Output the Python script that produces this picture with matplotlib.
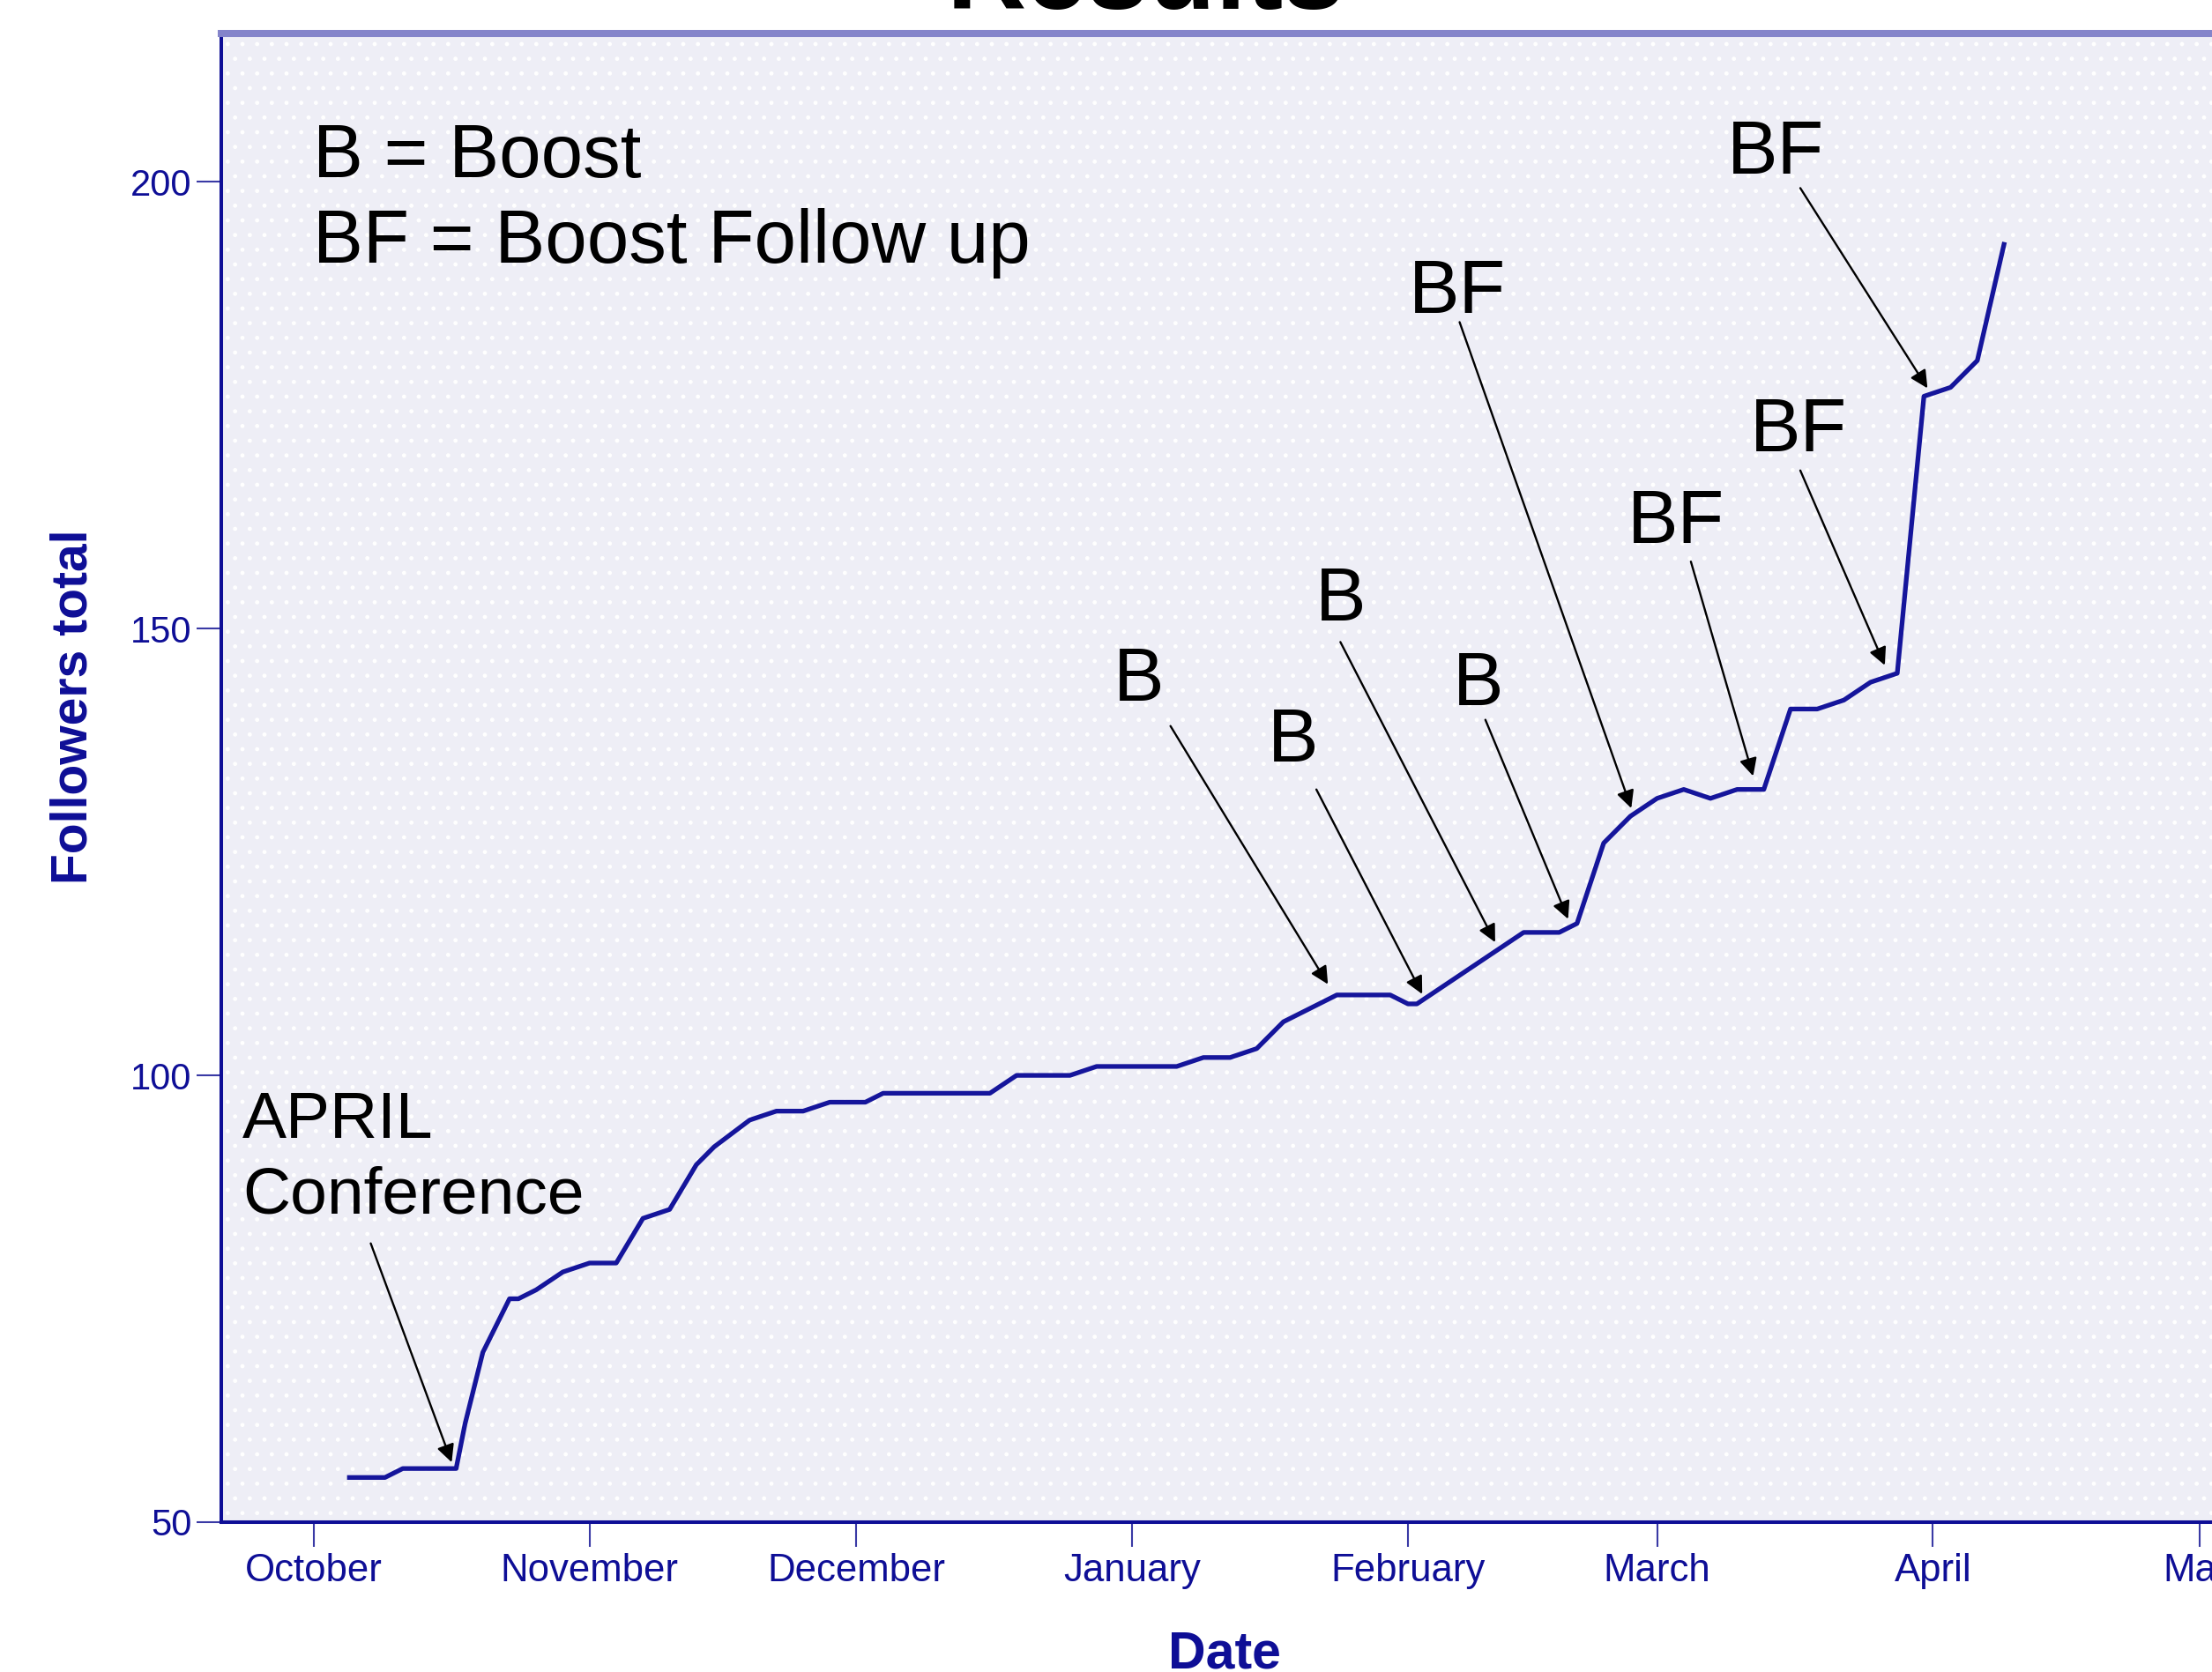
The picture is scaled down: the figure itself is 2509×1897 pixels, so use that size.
import datetime
import matplotlib
matplotlib.use('Agg')
import matplotlib.pyplot as plt
from matplotlib.patches import Rectangle

plt.rcParams['font.family'] = ['Liberation Sans', 'DejaVu Sans']
plt.rcParams['hatch.color'] = 'white'

navy = '#0E0E96'
start = datetime.date(2012, 10, 1)

# days since 1 October and total followers on that day
day = [4, 8, 10, 16, 17, 18, 19, 22, 23, 25,
       28, 31, 34, 37, 40, 43, 45, 49, 52, 55,
       58, 62, 64, 76, 79, 85, 88, 97, 100, 103,
       106, 109, 111, 115, 121, 123, 124, 136, 140, 142,
       145, 148, 151, 154, 157, 160, 163, 166, 169, 172,
       175, 178, 181, 184, 187, 190]
followers = [55, 55, 56, 56, 61, 65, 69, 75, 75, 76,
             78, 79, 79, 84, 85, 90, 92, 95, 96, 96,
             97, 97, 98, 98, 100, 100, 101, 101, 102, 102,
             103, 106, 107, 109, 109, 108, 108, 116, 116, 117,
             126, 129, 131, 132, 131, 132, 132, 141, 141, 142,
             144, 145, 176, 177, 180, 193]

months = ['October', 'November', 'December', 'January', 'February', 'March', 'April', 'May']
month_dates = [datetime.date(2012, 10, 1), datetime.date(2012, 11, 1), datetime.date(2012, 12, 1),
               datetime.date(2013, 1, 1), datetime.date(2013, 2, 1), datetime.date(2013, 3, 1),
               datetime.date(2013, 4, 1), datetime.date(2013, 5, 1)]
month_ticks = [(d - start).days for d in month_dates]

yticks = [50, 100, 150, 200]

# annotations: label, label position (centre, baseline), arrow tail, arrow tip
labels = ['B', 'B', 'B', 'B', 'BF', 'BF', 'BF', 'BF']
label_x = [92.7, 110.1, 115.4, 130.9, 128.5, 153.1, 166.9, 164.3]
label_y = [141.9, 135.1, 150.9, 141.4, 185.3, 159.6, 169.8, 200.9]
tail_x = [96.3, 112.7, 115.4, 131.7, 128.8, 154.8, 167.1, 167.1]
tail_y = [139.1, 132.0, 148.5, 139.8, 184.3, 157.5, 167.7, 199.3]
tip_x = [114.0, 124.6, 132.8, 141.0, 148.1, 161.8, 176.6, 181.4]
tip_y = [110.2, 109.1, 114.9, 117.5, 129.9, 133.5, 145.9, 176.9]

W, H = 2509, 1897
fig = plt.figure(figsize=(W / 100, H / 100), dpi=100)
ax = fig.add_axes([251 / W, (H - 1727) / H, (2600 - 251) / W, (1727 - 38) / H])
ax.set_facecolor('#EEEEF6')
ax.add_patch(Rectangle((0, 0), 1, 1, transform=ax.transAxes, facecolor='none',
                       edgecolor='white', hatch='.', lw=0, zorder=0.5))

ax.plot(day, followers, color='#15159B', lw=3.8, zorder=3)

ax.set_xlim(-10.4, 222.4)
ax.set_ylim(50, 216.6)

ax.set_xticks(month_ticks)
ax.set_xticklabels(months)
ax.set_yticks(yticks)
ax.tick_params(axis='both', direction='out', length=20, width=1.5, color='#3A3AA5',
               labelcolor=navy, labelsize=30)
ax.tick_params(axis='x', pad=5, labelsize=31.5)
ax.tick_params(axis='y', pad=4)

for s in ['left', 'bottom']:
    ax.spines[s].set_color(navy)
    ax.spines[s].set_linewidth(2.9)
ax.spines['top'].set_color('#8484CA')
ax.spines['top'].set_linewidth(5.8)
ax.spines['right'].set_visible(False)

ax.set_xlabel('Date', fontsize=42.5, fontweight='bold', color=navy)
ax.xaxis.set_label_coords(0.4845, -0.0725)
ax.set_ylabel('Followers total', fontsize=41, fontweight='bold', color=navy)
ax.yaxis.set_label_coords(-0.060, 0.548)

fig.text(0.518, 1 - 10 / H, 'Results', ha='center', va='baseline', fontsize=90,
         fontweight='bold', color='black')

ax.text(-0.1, 206.6, 'B = Boost\nBF = Boost Follow up', ha='left', va='top',
        fontsize=61.5, linespacing=1.27, zorder=4)
ax.text(-8.0, 98.3, 'APRIL\nConference', ha='left', va='top', fontsize=54,
        linespacing=1.3, zorder=4)
ax.annotate('', xy=(15.5, 56.7), xytext=(6.4, 81.2),
            arrowprops=dict(arrowstyle='-|>', color='black', lw=1.7,
                            mutation_scale=30, shrinkA=0, shrinkB=0), zorder=4)

for i in range(len(labels)):
    ax.text(label_x[i], label_y[i], labels[i], ha='center', va='baseline', fontsize=62, zorder=4)
    ax.annotate('', xy=(tip_x[i], tip_y[i]), xytext=(tail_x[i], tail_y[i]),
                arrowprops=dict(arrowstyle='-|>', color='black', lw=1.7,
                                mutation_scale=30, shrinkA=0, shrinkB=0), zorder=4)

fig.savefig('out.png', dpi=100)
